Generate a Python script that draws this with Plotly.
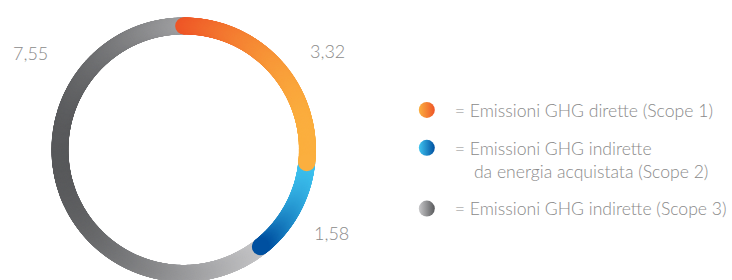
import numpy as np
import plotly.graph_objects as go

# ---- data ----
categories = ["Scope 1", "Scope 2", "Scope 3"]
values = [3.32, 1.58, 7.55]
value_labels = ["3,32", "1,58", "7,55"]
legend_labels = [
    "= Emissioni GHG dirette (Scope 1)",
    "= Emissioni GHG indirette<br>\u00a0\u00a0\u00a0\u00a0da energia acquistata (Scope 2)",
    "= Emissioni GHG indirette (Scope 3)",
]
# gradient end colours per category (dark/start, light/end)
grad_colors = [
    ("#EE5527", "#FBAF3F"),
    ("#0050A0", "#3FC4F0"),
    ("#58595B", "#C8C8CA"),
]

TEXT = "#8A8A8A"
FONT = "Lato"

total = sum(values)
starts = np.cumsum([0] + values[:-1]) / total * 360.0
ends = np.cumsum(values) / total * 360.0

fig = go.Figure()

# ring: draw Scope 3 first, then Scope 2, then Scope 1 on top
for i in [2, 1, 0]:
    th = np.arange(starts[i], ends[i] + 1e-9, 0.25)
    if th[-1] < ends[i]:
        th = np.append(th, ends[i])
    s = np.sin(np.radians(th))
    c0, c1 = grad_colors[i]
    fig.add_trace(go.Scatterpolar(
        r=np.ones_like(th), theta=th, mode="markers",
        marker=dict(size=17, color=s, cmin=s.min(), cmax=s.max(),
                    colorscale=[[0, c0], [1, c1]], line=dict(width=0)),
        cliponaxis=False, showlegend=False, hoverinfo="skip",
    ))

# legend entries
for i in range(3):
    c0, c1 = grad_colors[i]
    fig.add_trace(go.Scatterpolar(
        r=[None], theta=[None], mode="markers", name=legend_labels[i],
        legendgroup=categories[i],
        marker=dict(size=19, color=c1, gradient=dict(type="horizontal", color=c0),
                    line=dict(width=0)),
    ))

# value labels
label_pos = [(329.5, 51), (333, 232.5), (31, 53)]
for (px, py), txt in zip(label_pos, value_labels):
    fig.add_annotation(x=px / 732, y=1 - py / 280, xref="paper", yref="paper",
                       text=txt, showarrow=False, xanchor="center", yanchor="middle",
                       font=dict(family=FONT, size=18, color=TEXT, weight=300))

cx, cy, R = 184.7, 149.7, 124.4
fig.update_layout(
    width=732, height=280,
    margin=dict(l=0, r=0, t=0, b=0),
    paper_bgcolor="white", plot_bgcolor="white",
    polar=dict(
        domain=dict(x=[(cx - R) / 732, (cx + R) / 732],
                    y=[(280 - cy - R) / 280, (280 - cy + R) / 280]),
        bgcolor="rgba(0,0,0,0)",
        radialaxis=dict(visible=False, range=[0, 1]),
        angularaxis=dict(visible=False, rotation=90, direction="clockwise"),
    ),
    showlegend=True,
    legend=dict(
        x=401 / 732, xanchor="left",
        y=1 - 92 / 280, yanchor="top",
        font=dict(family=FONT, size=17.6, color=TEXT, weight=300),
        itemwidth=46, valign="top", tracegroupgap=12,
        bgcolor="rgba(0,0,0,0)", itemclick=False, itemdoubleclick=False,
    ),
)

fig.write_html("out.html", config={"displayModeBar": False},
               post_script="document.body.style.margin='0';document.body.style.padding='0';")
